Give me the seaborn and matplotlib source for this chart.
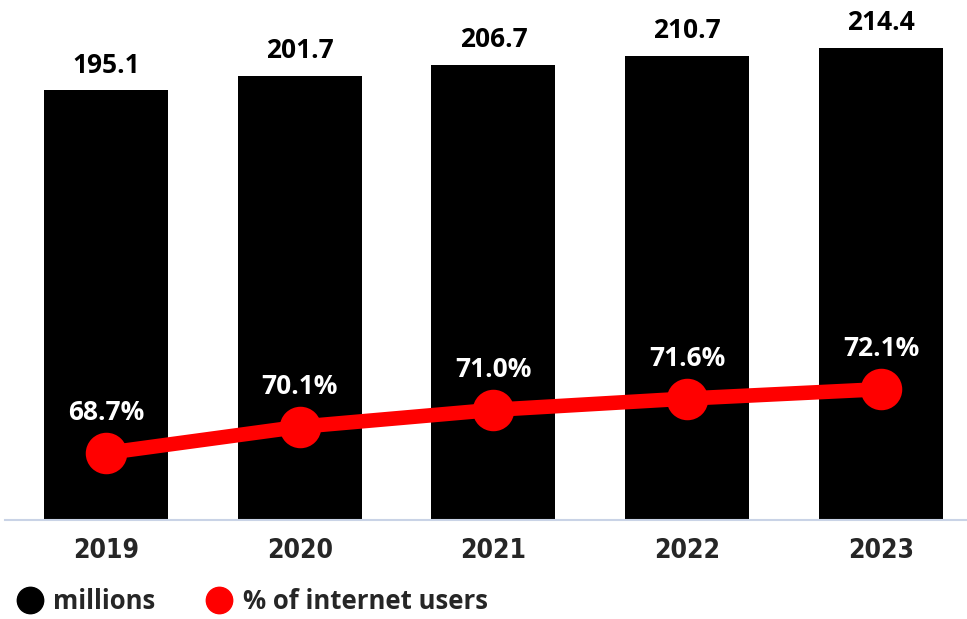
import matplotlib
matplotlib.use("Agg")
import matplotlib.pyplot as plt
from matplotlib.lines import Line2D
import seaborn as sns
import pandas as pd
import numpy as np

years = ["2019", "2020", "2021", "2022", "2023"]
millions = [195.1, 201.7, 206.7, 210.7, 214.4]
pct_users = [68.7, 70.1, 71.0, 71.6, 72.1]
legend_labels = ["millions", "% of internet users"]

sns.set_style("white")
plt.rcParams["font.family"] = ["Open Sans", "DejaVu Sans"]

df = pd.DataFrame({"year": years, "millions": millions, "pct": pct_users})

fig = plt.figure(figsize=(9.67, 6.19), dpi=100)
ax = fig.add_axes([5 / 967, (619 - 520) / 619, 962 / 967, 520 / 619])

sns.barplot(data=df, x="year", y="millions", color="black", width=0.64,
            saturation=1, ax=ax, edgecolor="none")
ax.set_ylim(0, 236)
ax.set_xlim(-0.52, 4.443)
for i, v in enumerate(millions):
    ax.annotate(f"{v:.1f}", (i, v), xytext=(0, 18), textcoords="offset points",
                ha="center", va="center", fontsize=19, fontweight="bold", color="black")

ax2 = ax.twinx()
sns.pointplot(data=df, x="year", y="pct", color="#ff0000", ax=ax2,
              markersize=22, linewidth=10.5)
ax2.set_ylim(65.14, 92.8)
ax2.set_xlim(-0.52, 4.443)
for i, v in enumerate(pct_users):
    ax2.annotate(f"{v:.1f}%", (i, v), xytext=(0, 29), textcoords="offset points",
                 ha="center", va="center", fontsize=19, fontweight="bold", color="white")

for a in (ax, ax2):
    for s in ["top", "right", "left"]:
        a.spines[s].set_visible(False)
    a.set_ylabel("")
    a.set_xlabel("")
    a.set_yticks([])
ax2.spines["bottom"].set_visible(False)
ax.spines["bottom"].set_color("#c9d3e6")
ax.spines["bottom"].set_linewidth(1.5)
ax.tick_params(axis="x", length=0, pad=13)
for lbl in ax.get_xticklabels():
    lbl.set_fontfamily("DejaVu Sans")
    lbl.set_fontstretch("condensed")
    lbl.set_fontweight("bold")
    lbl.set_fontsize(19)
ax2.tick_params(axis="x", length=0, labelbottom=False)

handles = [
    Line2D([], [], marker="o", color="black", linestyle="none", markersize=19),
    Line2D([], [], marker="o", color="#ff0000", linestyle="none", markersize=19),
]
fig.legend(handles, legend_labels, loc="center left", bbox_to_anchor=(-0.009, 0.028),
           ncol=2, frameon=False, handlelength=1.2, handletextpad=0.3,
           columnspacing=1.9, prop={"weight": "bold", "size": 18.5})

fig.savefig("out.png", dpi=100)
